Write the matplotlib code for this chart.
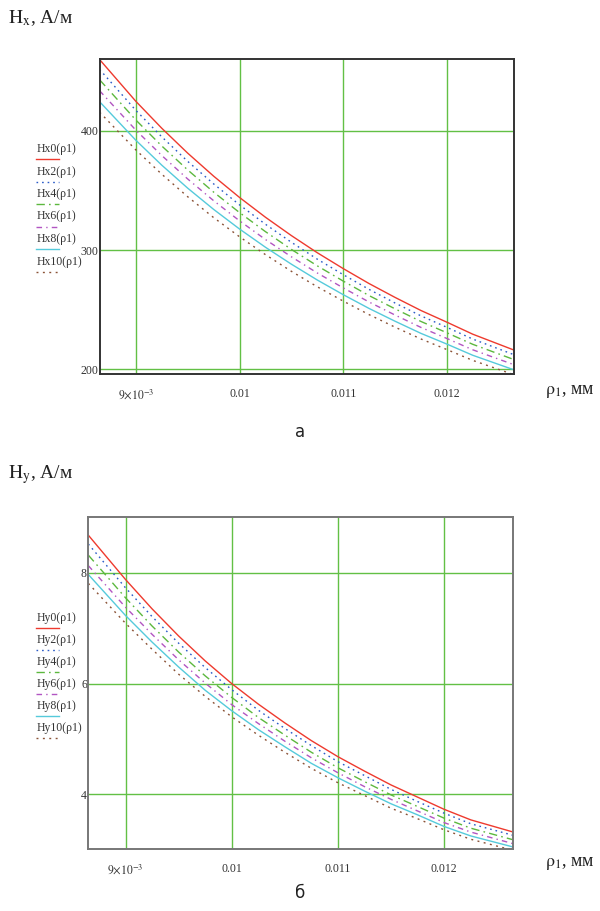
import numpy as np
import matplotlib.pyplot as plt
from matplotlib.lines import Line2D

plt.rcParams['font.family'] = ['Liberation Serif', 'DejaVu Serif']
plt.rcParams['mathtext.fontset'] = 'stix'

# radius values, mm
rho = [0.00865, 0.009, 0.00925, 0.0095, 0.00975, 0.01, 0.01025, 0.0105,
       0.01075, 0.011, 0.01125, 0.0115, 0.01175, 0.012, 0.01225, 0.01265]

# Hx curves (top chart)
hx0 = [460.0, 424.9, 402.3, 381.4, 362.1, 344.2, 327.6, 312.2, 297.8, 284.5, 271.9, 260.3, 249.3, 239.5, 229.4, 216.0]
hx2 = [451.7, 417.3, 395.1, 374.5, 355.6, 338.0, 321.7, 306.6, 292.4, 279.4, 267.0, 255.6, 244.8, 235.2, 225.3, 212.1]
hx4 = [443.0, 409.2, 387.4, 367.3, 348.7, 331.5, 315.5, 300.6, 286.8, 274.0, 261.8, 250.7, 240.1, 230.6, 220.9, 208.0]
hx6 = [433.8, 400.7, 379.4, 359.7, 341.5, 324.6, 308.9, 294.4, 280.8, 268.3, 256.4, 245.5, 235.1, 225.8, 216.3, 203.7]
hx8 = [424.6, 392.2, 371.3, 352.0, 334.2, 317.7, 302.4, 288.2, 274.9, 262.6, 251.0, 240.3, 230.1, 221.1, 211.7, 199.4]
hx10 = [415.8, 384.1, 363.7, 344.8, 327.3, 311.2, 296.2, 282.2, 269.2, 257.2, 245.8, 235.3, 225.4, 216.5, 207.4, 195.3]

# Hy curves (bottom chart)
hy0 = [8.68, 7.88, 7.35, 6.86, 6.41, 6.00, 5.63, 5.29, 4.97, 4.68, 4.42, 4.17, 3.95, 3.73, 3.54, 3.32]
hy2 = [8.52, 7.73, 7.21, 6.73, 6.29, 5.89, 5.52, 5.19, 4.88, 4.59, 4.34, 4.09, 3.87, 3.66, 3.47, 3.26]
hy4 = [8.32, 7.55, 7.04, 6.57, 6.14, 5.75, 5.39, 5.07, 4.76, 4.48, 4.23, 3.99, 3.78, 3.57, 3.39, 3.18]
hy6 = [8.13, 7.38, 6.89, 6.43, 6.01, 5.62, 5.28, 4.96, 4.66, 4.39, 4.14, 3.91, 3.70, 3.49, 3.32, 3.11]
hy8 = [7.97, 7.23, 6.75, 6.30, 5.88, 5.51, 5.17, 4.86, 4.56, 4.30, 4.06, 3.83, 3.63, 3.42, 3.25, 3.05]
hy10 = [7.81, 7.09, 6.62, 6.17, 5.77, 5.40, 5.07, 4.76, 4.47, 4.21, 3.98, 3.75, 3.56, 3.36, 3.19, 2.99]

xticks = [0.009, 0.01, 0.011, 0.012]
xlabels = [r'$9{\times}10^{-3}$', '0.01', '0.011', '0.012']

colors = ['#ee3a2e', '#2a5bc8', '#5cb83e', '#b255c2', '#55cadb', '#8a5236']
styles = ['-', (0, (1.2, 2.8)), (0, (6, 3, 1.2, 3)), (0, (4, 3, 1, 3)), '-', (0, (1.4, 3.2))]
grid_c = '#62c045'

fig = plt.figure(figsize=(6, 9.11), dpi=100)


def draw(ax, series, names, yticks, ylim, spine_c, leg_y, leg_step):
    for y, c, ls in zip(series, colors, styles):
        ax.plot(rho, y, color=c, linestyle=ls, linewidth=1.0)
    ax.set_xlim(0.00865, 0.01265)
    ax.set_ylim(*ylim)
    ax.set_xticks(xticks)
    ax.set_xticklabels(xlabels)
    ax.set_yticks(yticks)
    ax.set_yticklabels([str(t) for t in yticks])
    ax.tick_params(axis='both', length=0, labelsize=8.5, colors='#333333')
    ax.tick_params(axis='x', pad=10)
    ax.tick_params(axis='y', pad=1)
    ax.grid(True, color=grid_c, linewidth=1.0)
    for s in ax.spines.values():
        s.set_color(spine_c)
        s.set_linewidth(1.4)
    # legend drawn by hand, Mathcad style
    for i, (n, c, ls) in enumerate(zip(names, colors, styles)):
        yt = 1 - (leg_y + leg_step * i) / 911
        yl = 1 - (leg_y + 10 + leg_step * i) / 911
        fig.text(37 / 600, yt, n, fontsize=8.5, color='#333333', va='center', ha='left')
        fig.add_artist(Line2D([36 / 600, 59 / 600], [yl, yl], transform=fig.transFigure,
                              color=c, linestyle=ls, linewidth=1.0))


ax1 = fig.add_axes([0.166, 0.5895, 0.691, 0.3458])
draw(ax1, [hx0, hx2, hx4, hx6, hx8, hx10],
     ['Hx0(ρ1)', 'Hx2(ρ1)', 'Hx4(ρ1)', 'Hx6(ρ1)', 'Hx8(ρ1)', 'Hx10(ρ1)'],
     [200, 300, 400], (196, 460.5), '#333333', 149, 22.5)

ax2 = fig.add_axes([0.1472, 0.0684, 0.7083, 0.3636])
draw(ax2, [hy0, hy2, hy4, hy6, hy8, hy10],
     ['Hy0(ρ1)', 'Hy2(ρ1)', 'Hy4(ρ1)', 'Hy6(ρ1)', 'Hy8(ρ1)', 'Hy10(ρ1)'],
     [4, 6, 8], (3.02, 9.0), '#777777', 617.5, 22)

# axis titles
fig.text(8 / 600, 1 - 18 / 911, r'$\mathrm{H_x}$, А/м', fontsize=14, va='center', ha='left', color='#222222')
fig.text(8 / 600, 1 - 475 / 911, r'$\mathrm{H_y}$, А/м', fontsize=14, va='center', ha='left', color='#222222')
fig.text(545 / 600, 1 - 392 / 911, r'$\mathrm{\rho_1}$, мм', fontsize=13, va='center', ha='left', color='#222222')
fig.text(545 / 600, 1 - 863 / 911, r'$\mathrm{\rho_1}$, мм', fontsize=13, va='center', ha='left', color='#222222')

# panel letters
fig.text(0.5, 1 - 432 / 911, 'а', fontsize=12, ha='center', va='center', family='DejaVu Sans', color='#222222')
fig.text(0.5, 1 - 893 / 911, 'б', fontsize=12, ha='center', va='center', family='DejaVu Sans', color='#222222')

plt.savefig('out.png', dpi=100)
